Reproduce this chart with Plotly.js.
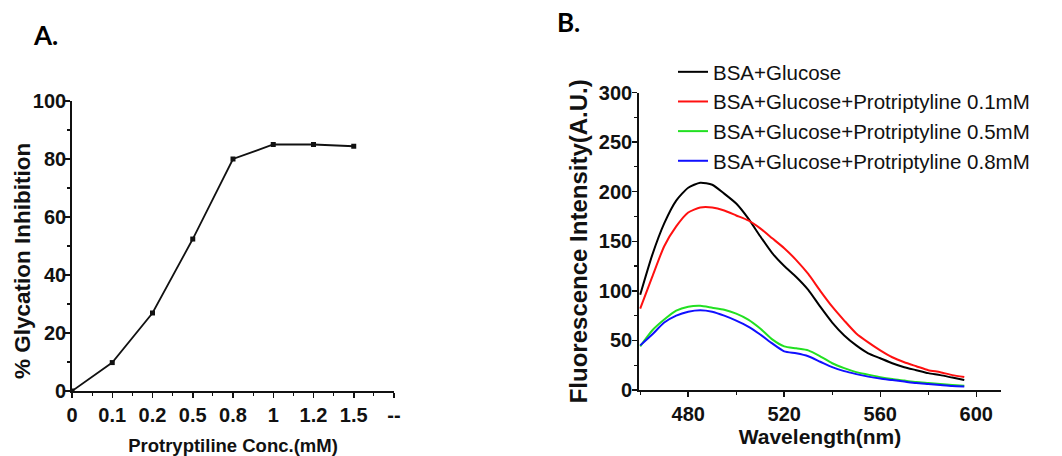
<!DOCTYPE html>
<html>
<head>
<meta charset="utf-8">
<script src="https://cdn.plot.ly/plotly-3.0.1.min.js"></script>
<style>html,body{margin:0;padding:0;background:#fff;}#chart{width:1062px;height:456px;}</style>
</head>
<body>
<div id="chart"></div>
<script>
// ---- Panel A data ----
const concLabels = ['0', '0.1', '0.2', '0.5', '0.8', '1', '1.2', '1.5', '--'];
const inhibition = [0, 9.8, 26.9, 52.4, 80.0, 85.0, 85.0, 84.4];

// ---- Panel B data ----
const wavelength = [460, 465, 470, 475, 480, 485, 490, 495, 500, 505, 510, 515, 520, 525, 530, 535, 540, 545, 550, 555, 560, 565, 570, 575, 580, 585, 590, 595];
const bsaGlucose = [96, 136, 168, 191, 204, 209, 207, 198, 188, 173, 155, 138, 125, 114, 101, 84, 68, 55, 45, 37, 32, 27, 23, 20, 17, 15, 12.5, 10];
const prot01 = [82, 114, 145, 165, 179, 184, 184, 181, 176, 171, 163, 153, 143, 131, 117, 100, 84, 70, 57, 48, 40, 33, 28, 24, 20, 18, 15, 13];
const prot05 = [44, 60, 71, 80, 84, 85, 83, 81, 77, 71, 62, 51, 44, 42, 40, 34, 27, 22, 18, 15.5, 13, 11, 9.5, 8, 7, 6, 5, 4.3];
const prot08 = [45, 56, 68, 75, 79, 80.5, 79, 75, 70, 64, 56, 47, 39, 37, 34, 28.5, 23, 19, 16, 13.5, 11.5, 10, 8.5, 7, 6, 5, 4, 3.5];
const seriesNames = ['BSA+Glucose', 'BSA+Glucose+Protriptyline 0.1mM', 'BSA+Glucose+Protriptyline 0.5mM', 'BSA+Glucose+Protriptyline 0.8mM'];
const seriesColors = ['#000000', '#ff1010', '#22e022', '#1010ff'];

const W = 1062, H = 456;
const FONT = 'Liberation Sans, Arial, sans-serif';

const concIdx = concLabels.map((_, i) => i);

const traces = [];
traces.push({
  x: concIdx.slice(0, inhibition.length), y: inhibition,
  xaxis: 'x', yaxis: 'y', type: 'scatter', mode: 'lines+markers',
  line: {color: '#111', width: 1.8},
  marker: {symbol: 'square', size: 5, color: '#111'},
  showlegend: false
});
[bsaGlucose, prot01, prot05, prot08].forEach((ys, k) => {
  traces.push({
    x: wavelength, y: ys, xaxis: 'x2', yaxis: 'y2', type: 'scatter', mode: 'lines',
    name: seriesNames[k],
    line: {color: seriesColors[k], width: 2, shape: 'spline', smoothing: 0.6}
  });
});

const tickFont = {family: FONT, size: 20, color: '#111', weight: 700};
const axisCommon = {
  showline: true, linecolor: '#111', linewidth: 1.8,
  ticks: 'outside', ticklen: 5, tickwidth: 1.5, tickcolor: '#111',
  showgrid: false, zeroline: false, fixedrange: true
};

const layout = {
  width: W, height: H,
  margin: {l: 0, r: 0, t: 0, b: 0},
  paper_bgcolor: '#fff', plot_bgcolor: '#fff',
  showlegend: true,
  xaxis: Object.assign({}, axisCommon, {
    domain: [72 / W, 394 / W], range: [0, 8], anchor: 'y',
    tickmode: 'array', tickvals: concIdx, ticktext: concLabels,
    tickfont: tickFont,
    minor: {dtick: 0.5, tick0: 0, ticklen: 3, tickwidth: 1.2, tickcolor: '#111', ticks: 'outside'},
    title: {text: 'Protryptiline Conc.(mM)', font: {family: FONT, size: 18.5, color: '#111', weight: 700}, standoff: 18}
  }),
  yaxis: Object.assign({}, axisCommon, {
    domain: [(H - 391) / H, (H - 101) / H], range: [0, 100], anchor: 'x',
    dtick: 20, tickfont: tickFont, ticklabelstandoff: -5,
    minor: {dtick: 10, ticklen: 3, tickwidth: 1.2, tickcolor: '#111', ticks: 'outside'}
  }),
  xaxis2: Object.assign({}, axisCommon, {
    domain: [639 / W, 1001 / W], range: [459.5, 610.3], anchor: 'y2',
    tick0: 480, dtick: 40, tickfont: tickFont,
    minor: {dtick: 20, tick0: 480, ticklen: 3, tickwidth: 1.2, tickcolor: '#111', ticks: 'outside'},
    title: {text: 'Wavelength(nm)', font: {family: FONT, size: 21, color: '#111', weight: 700}, standoff: 3}
  }),
  yaxis2: Object.assign({}, axisCommon, {
    domain: [(H - 390) / H, (H - 92.5) / H], range: [0, 300], anchor: 'x2',
    dtick: 50, tickfont: tickFont, ticklabelstandoff: -4,
    minor: {dtick: 25, ticklen: 3, tickwidth: 1.2, tickcolor: '#111', ticks: 'outside'},
    title: {text: 'Fluorescence Intensity(A.U.)', font: {family: FONT, size: 24, color: '#111', weight: 700}, standoff: 4}
  }),
  legend: {
    x: 673 / W, xanchor: 'left', y: 1 - 52 / H, yanchor: 'top',
    bgcolor: 'rgba(0,0,0,0)', borderwidth: 0,
    font: {family: FONT, size: 20.5, color: '#111'},
    tracegroupgap: 0, itemclick: false
  },
  annotations: [
    {text: '% Glycation Inhibition', xref: 'paper', yref: 'paper', x: 22 / W, y: 1 - 261 / H,
     xanchor: 'center', yanchor: 'middle', textangle: -90, showarrow: false,
     font: {family: FONT, size: 22.5, color: '#111', weight: 700}},
    {text: 'A.', xref: 'paper', yref: 'paper', x: 31 / W, y: 1 - 35 / H, xanchor: 'left', yanchor: 'middle', showarrow: false,
     font: {family: 'Lato, Open Sans, sans-serif', size: 26, color: '#000', weight: 700}},
    {text: 'B.', xref: 'paper', yref: 'paper', x: 555 / W, y: 1 - 22 / H, xanchor: 'left', yanchor: 'middle', showarrow: false,
     font: {family: 'Lato, Open Sans, sans-serif', size: 26, color: '#000', weight: 700}}
  ]
};

Plotly.newPlot('chart', traces, layout, {staticPlot: true, displayModeBar: false});
</script>
</body>
</html>
